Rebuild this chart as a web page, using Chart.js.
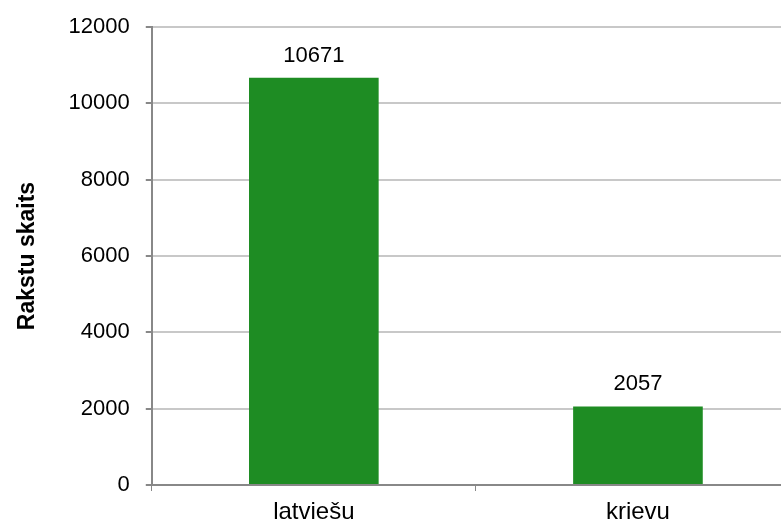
<!DOCTYPE html>
<html>
<head>
<meta charset="utf-8">
<script src="https://cdn.jsdelivr.net/npm/chart.js@4.4.0/dist/chart.umd.min.js"></script>
<style>
  html, body { margin: 0; padding: 0; background: #fff; overflow: hidden; }
  #wrap { width: 800px; height: 533px; position: relative; }
</style>
</head>
<body>
<div id="wrap"><canvas id="chart"></canvas></div>
<script>
const categories = ['latviešu', 'krievu'];
const counts = [10671, 2057];
const yTicks = [0, 2000, 4000, 6000, 8000, 10000, 12000];

const fontFam = '"Liberation Sans", Arial, sans-serif';

// labels over the bars
const barLabels = {
  id: 'barLabels',
  afterDatasetsDraw(chart) {
    const ctx = chart.ctx;
    const meta = chart.getDatasetMeta(0);
    ctx.save();
    ctx.font = '22px ' + fontFam;
    ctx.fillStyle = '#000';
    ctx.textAlign = 'center';
    ctx.textBaseline = 'alphabetic';
    meta.data.forEach(function(bar, i) {
      ctx.fillText(String(counts[i]), bar.x, bar.y - 16);
    });
    ctx.restore();
  }
};

const data = {
  labels: categories,
  datasets: [{
    data: counts,
    backgroundColor: 'rgb(30, 140, 35)',
    borderWidth: 0,
    barPercentage: 0.4,
    categoryPercentage: 1.0
  }]
};

const config = {
  type: 'bar',
  data: data,
  options: {
    responsive: true,
    maintainAspectRatio: false,
    animation: false,
    layout: { padding: { top: 2, left: 10, right: 0, bottom: 0 } },
    plugins: { legend: { display: false }, tooltip: { enabled: false } },
    scales: {
      x: {
        offset: true,
        grid: { display: true, drawOnChartArea: false, offset: true, tickLength: 6, color: '#888' },
        border: { color: '#888', width: 2 },
        ticks: { color: '#000', font: { family: fontFam, size: 24, lineHeight: 0.5 }, padding: 15 }
      },
      y: {
        min: 0,
        max: 12000,
        afterBuildTicks(axis) { axis.ticks = yTicks.map(v => ({ value: v })); },
        grid: { color: '#c8c8c8', lineWidth: 2, tickLength: 6, tickColor: '#888' },
        border: { color: '#888', width: 2 },
        ticks: {
          color: '#000',
          font: { family: fontFam, size: 22, lineHeight: 1.0 },
          padding: 16,
          callback: v => String(v)
        },
        title: {
          display: true,
          text: 'Rakstu skaits',
          color: '#000',
          font: { family: fontFam, size: 23, weight: 'bold' },
          padding: { top: 4, bottom: 11 }
        }
      }
    }
  },
  plugins: [barLabels]
};

let c = document.getElementById('chart').getContext('2d');
new Chart(c, config);
</script>
</body>
</html>
